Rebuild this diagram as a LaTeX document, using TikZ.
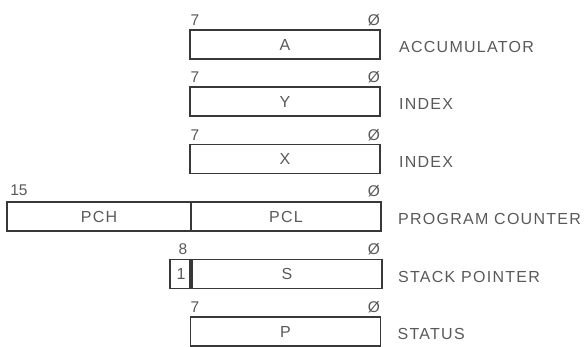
\documentclass[tikz,border=0pt]{standalone}
\usepackage{fontspec}
\setmainfont{Liberation Sans}
\usepackage{tikz}
\usetikzlibrary{positioning}

\begin{document}
\begin{tikzpicture}[
    x=1pt, y=-1pt,
    font=\fontsize{16}{18}\selectfont\addfontfeatures{LetterSpace=8},
    text=black!65,
    reg/.style={draw=black!78, line width=1.8pt, minimum width=190pt, minimum height=29pt, inner sep=0pt},
    onebox/.style={draw=black!78, line width=1.8pt, minimum width=22pt, minimum height=29pt, inner sep=0pt},
    bit/.style={font=\fontsize{15.5}{17}\selectfont, inner sep=0pt, anchor=base},
    regname/.style={anchor=west, inner sep=0pt, yshift=-2.5pt}
]
\useasboundingbox (0,0) rectangle (586,346);

% 8-bit registers
\node[reg] (acc) at (285,44.5) {A};
\node[reg] (iy) at (285,101.5) {Y};
\node[reg] (ix) at (285,159) {X};

% program counter
\node[reg] (pcl) at (286,216.5) {PCL};
\node[reg, minimum width=184pt] (pch) at (99,216.5) {PCH};

% stack pointer
\node[reg] (sp) at (287,274) {S};
\node[onebox] (one) at (181,274) {1};
\draw[draw=black!78, line width=1.2pt] ([xshift=-3pt]one.north east) -- ([xshift=-3pt]one.south east);

\node[reg] (st) at (285.5,331.5) {P};

% bit numbers
\node[bit] (acc7) at (195,25) {7};
\node[bit] (acc0) at (374,25) {Ø};
\node[bit] (iy7) at (195,82) {7};
\node[bit] (iy0) at (374,82) {Ø};
\node[bit] (ix7) at (195,140) {7};
\node[bit] (ix0) at (374,140) {Ø};
\node[bit] (pc15) at (19,195.5) {15};
\node[bit] (pc0) at (374,196) {Ø};
\node[bit] (sp8) at (183,254) {8};
\node[bit] (sp0) at (374,254) {Ø};
\node[bit] (st7) at (195,312) {7};
\node[bit] (st0) at (374,312) {Ø};

% register names
\node[regname, right=18pt of acc] {ACCUMULATOR};
\node[regname, right=18pt of iy] {INDEX};
\node[regname, right=18pt of ix] {INDEX};
\node[regname, right=16pt of pcl] {PROGRAM COUNTER};
\node[regname, right=15pt of sp] {STACK POINTER};
\node[regname, right=16pt of st] {STATUS};
\end{tikzpicture}
\end{document}
